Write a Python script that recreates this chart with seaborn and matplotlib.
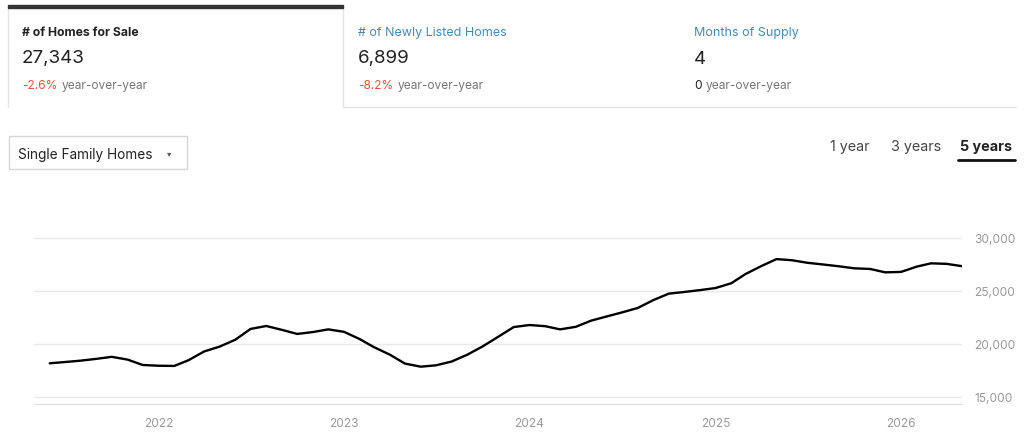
import pandas as pd
import matplotlib.pyplot as plt
from matplotlib.patches import Rectangle
from matplotlib.lines import Line2D
from matplotlib.ticker import FuncFormatter
import seaborn as sns

# Monthly homes for sale, Jun 2021 - May 2026
months = pd.date_range('2021-06-01', '2026-05-01', freq='MS')
homes_for_sale = [
    18180, 18300, 18430, 18600, 18790, 18530, 18020,
    17950, 17930, 18470, 19300, 19750, 20400, 21420, 21700, 21330, 20950, 21130, 21380,
    21150, 20460, 19700, 19000, 18150, 17860, 17990, 18350, 19000, 19780, 20700, 21600,
    21790, 21680, 21380, 21620, 22200, 22600, 22980, 23400, 24150, 24750, 24910, 25080,
    25280, 25730, 26600, 27350, 28010, 27900, 27660, 27500, 27330, 27140, 27080, 26760,
    26800, 27300, 27610, 27560, 27343,
]
y_ticks = [15000, 20000, 25000, 30000]
year_ticks = ['2022', '2023', '2024', '2025', '2026']

card_titles = ['# of Homes for Sale', '# of Newly Listed Homes', 'Months of Supply']
card_values = ['27,343', '6,899', '4']
card_changes = ['-2.6%', '-8.2%', '0']
tabs = ['1 year', '3 years', '5 years']

df = pd.DataFrame({'month': months, 'homes': homes_for_sale})

sns.set_style('white')
plt.rcParams['font.family'] = ['Inter', 'DejaVu Sans']

W, H = 1024, 438
fig = plt.figure(figsize=(W / 100, H / 100), dpi=100)


def fx(px):
    return px / W


def fy(py):
    return 1 - py / H


# summary cards
fig.patches.append(Rectangle((fx(8), fy(8)), fx(335), 3 / H, transform=fig.transFigure,
                             color='#333333', zorder=3))
for x0 in [8, 343]:
    fig.add_artist(Line2D([fx(x0), fx(x0)], [fy(8), fy(107)], transform=fig.transFigure,
                          color='#e4e4e4', lw=1))
fig.add_artist(Line2D([fx(343), fx(1016)], [fy(107), fy(107)], transform=fig.transFigure,
                      color='#e4e4e4', lw=1))

card_x = [22, 358, 694]
for i, (t, v, c) in enumerate(zip(card_titles, card_values, card_changes)):
    x = fx(card_x[i])
    if i == 0:
        fig.text(x, fy(33), t, fontsize=8.8, fontweight='bold', color='#222222', va='center')
    else:
        fig.text(x, fy(33), t, fontsize=9, color='#4a88b0', va='center')
    fig.text(x, fy(59), v, fontsize=13.5, color='#222222', va='center')
    ch_color = '#e2533e' if c.startswith('-') else '#222222'
    tt = fig.text(x, fy(86), c, fontsize=8.6, color=ch_color, va='center')
    fig.canvas.draw()
    bb = tt.get_window_extent()
    fig.text(bb.x1 / W + 4 / W, fy(86), 'year-over-year', fontsize=8.6, color='#777777',
             va='center')

# dropdown
fig.patches.append(Rectangle((fx(9), fy(169)), fx(178), 33 / H, transform=fig.transFigure,
                             fill=False, edgecolor='#d6d6d6', lw=1))
fig.text(fx(18), fy(155), 'Single Family Homes', fontsize=9.8, color='#222222', va='center')
fig.text(fx(169), fy(154), '▾', fontsize=6, color='#555555', va='center', ha='center',
         family='DejaVu Sans')

# range tabs
tab_x = [850, 916, 986]
for i, t in enumerate(tabs):
    fig.text(fx(tab_x[i]), fy(147), t, fontsize=10.3, ha='center', va='center',
             color='#222222' if i == 2 else '#444444',
             fontweight='bold' if i == 2 else 'normal')
fig.add_artist(Line2D([fx(958), fx(1015)], [fy(160), fy(160)], transform=fig.transFigure,
                      color='#111111', lw=2))

# chart
ax = fig.add_axes([fx(34), fy(404), fx(928), (404 - 227.4) / H])
sns.lineplot(data=df, x='month', y='homes', ax=ax, color='black', lw=1.7,
             solid_joinstyle='round')
ax.set_xlim(pd.Timestamp('2021-05-01'), pd.Timestamp('2026-05-01'))
ax.set_ylim(14340, 31000)
ax.set_yticks(y_ticks)
ax.yaxis.tick_right()
ax.yaxis.set_major_formatter(FuncFormatter(lambda v, p: f'{int(v):,}'))
ax.set_xticks([pd.Timestamp(f'{y}-01-01') for y in year_ticks])
ax.set_xticklabels(year_ticks)
ax.tick_params(axis='y', length=0, pad=9, labelsize=8.6, labelcolor='#9a9a9a')
ax.tick_params(axis='x', length=0, pad=10, labelsize=8.6, labelcolor='#9a9a9a')
ax.grid(axis='y', color='#e8e8e8', lw=1)
ax.set_axisbelow(True)
for s in ['top', 'left', 'right']:
    ax.spines[s].set_visible(False)
ax.spines['bottom'].set_color('#dddddd')
ax.set_xlabel('')
ax.set_ylabel('')

fig.savefig('out.png', dpi=100)
